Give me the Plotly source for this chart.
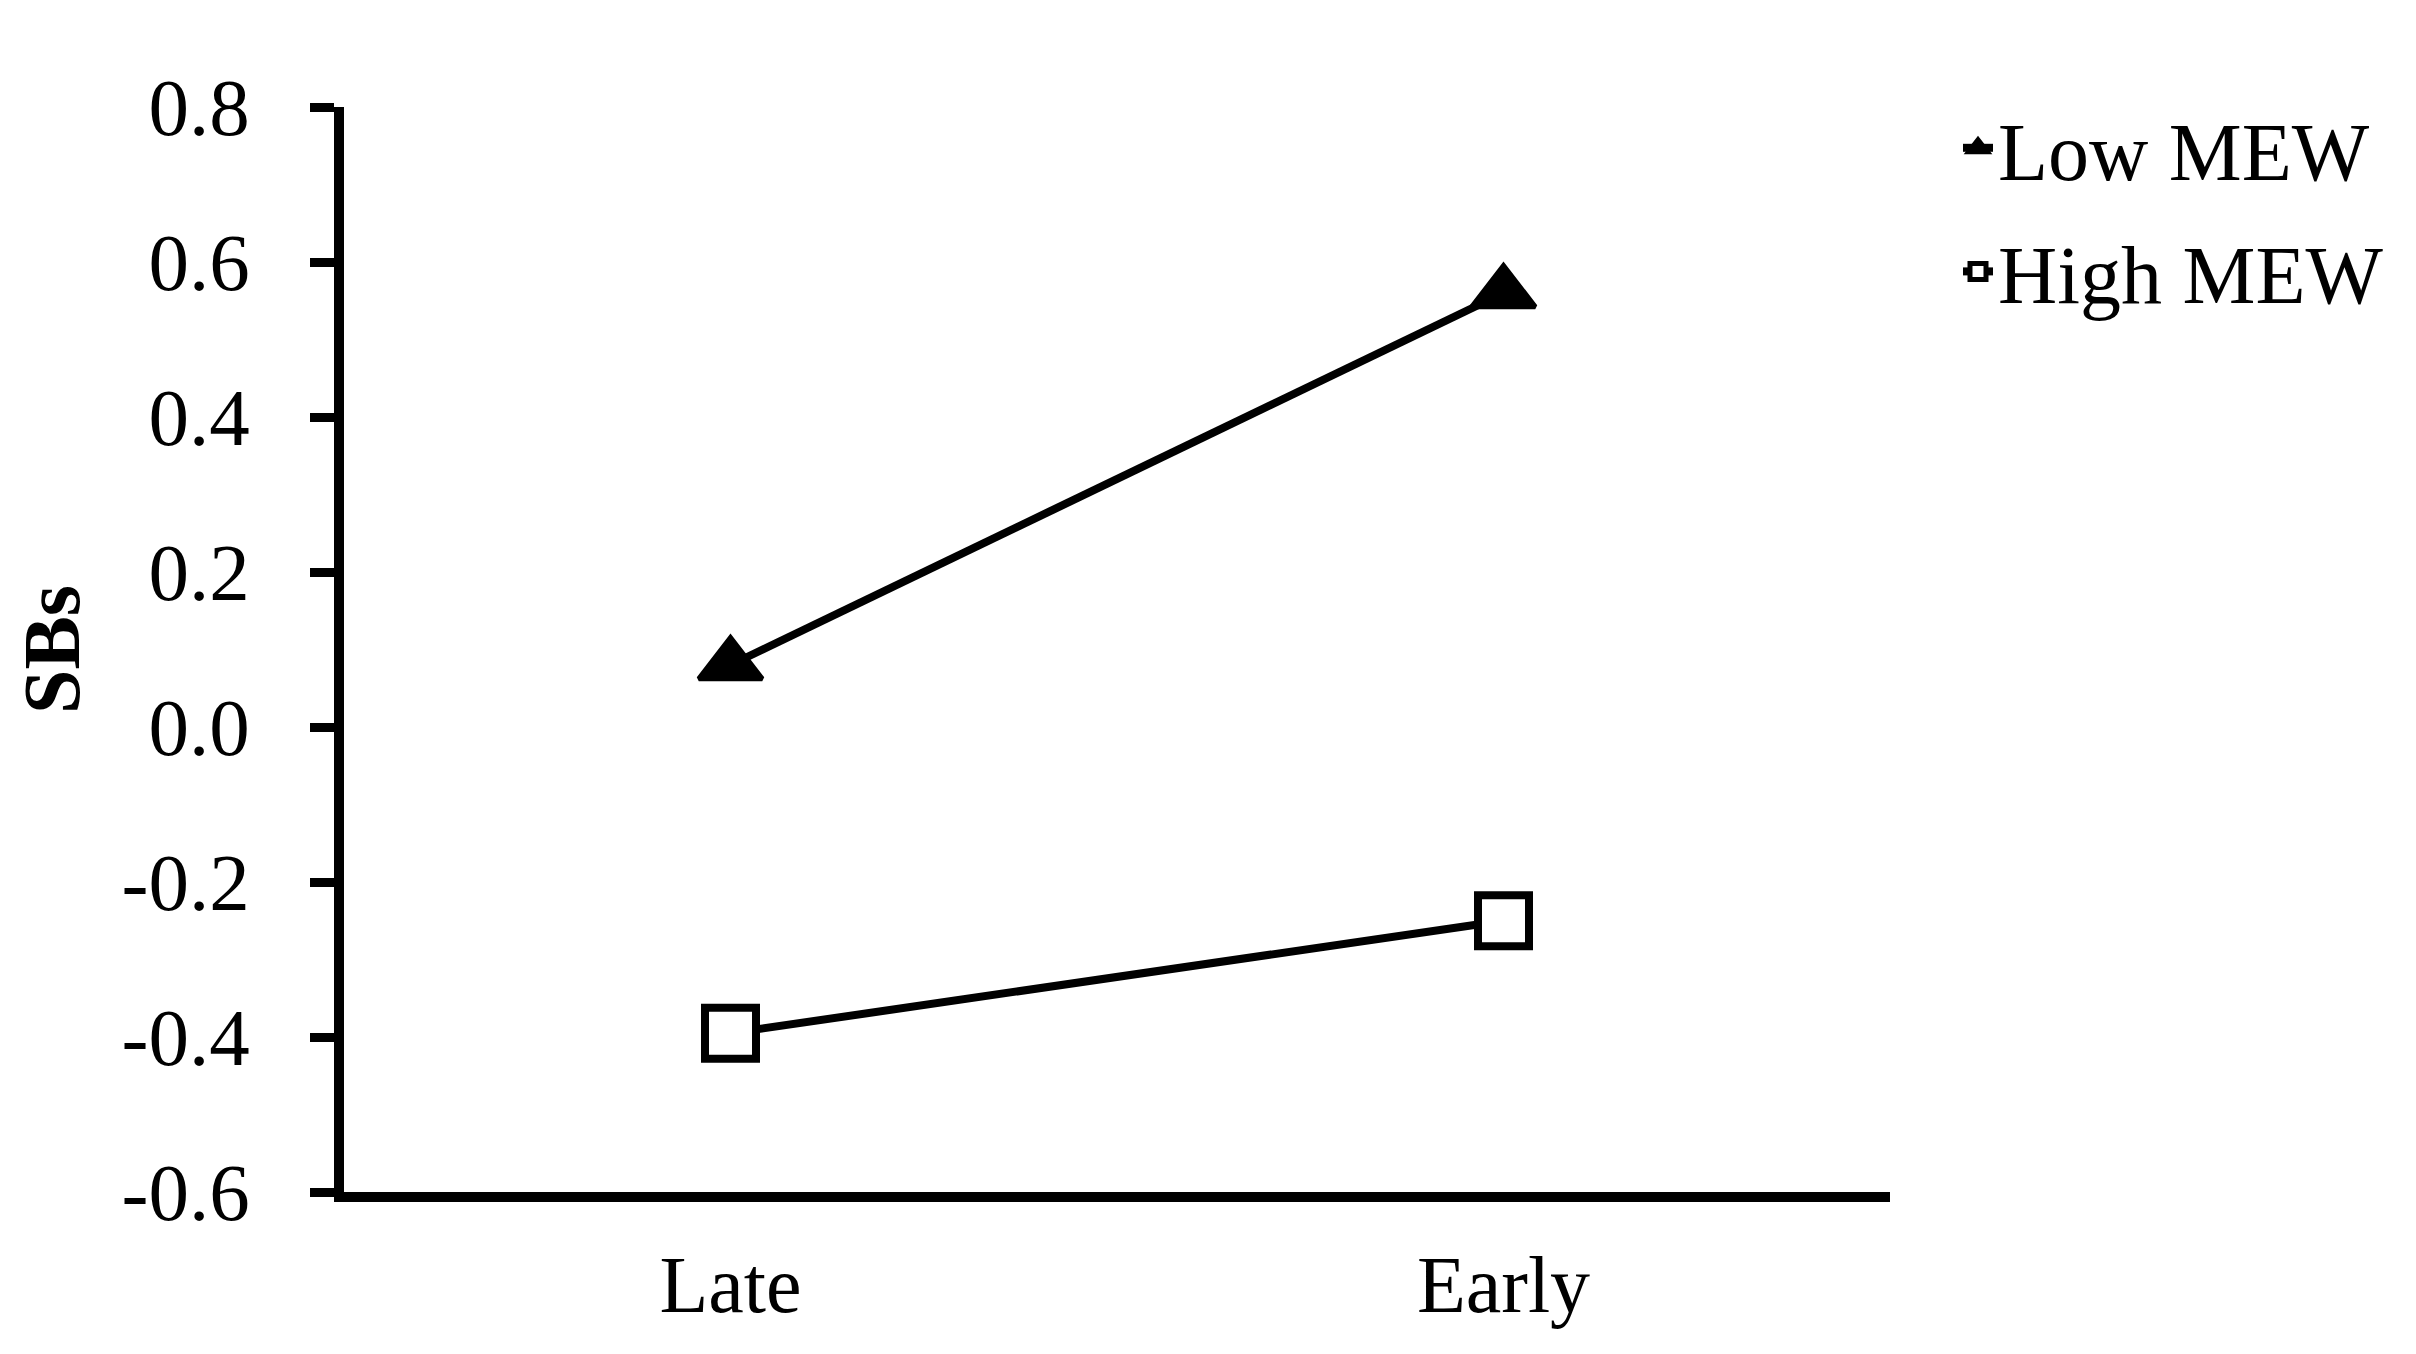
import plotly.graph_objects as go

categories = ["Late", "Early"]
low_mew = [0.08, 0.56]
high_mew = [-0.395, -0.25]
series_names = ["Low MEW", "High MEW"]
y_ticks = [-0.6, -0.4, -0.2, 0.0, 0.2, 0.4, 0.6, 0.8]
y_tick_text = ["-0.6", "-0.4", "-0.2", "0.0", "0.2", "0.4", "0.6", "0.8"]

FONT = "Liberation Serif"

fig = go.Figure()
fig.add_trace(go.Scatter(
    x=categories, y=low_mew, name=series_names[0], mode="lines+markers",
    line=dict(color="black", width=8),
    marker=dict(symbol="triangle-up", size=55, color="black",
                line=dict(color="black", width=5)),
    legendgroup="a",
))
fig.add_trace(go.Scatter(
    x=categories, y=high_mew, name=series_names[1], mode="lines+markers",
    line=dict(color="black", width=8),
    marker=dict(symbol="square", size=51, color="white",
                line=dict(color="black", width=8)),
    legendgroup="b",
))

L, R, T, B = 336, 534, 99, 170
W, H = 2416, 1354
PW, PH = W - L - R, H - T - B

fig.update_layout(
    width=W, height=H,
    margin=dict(l=L, r=R, t=T, b=B, pad=0),
    paper_bgcolor="white", plot_bgcolor="white",
    font=dict(family=FONT, size=80, color="black"),
    showlegend=True,
    legend=dict(
        x=(1950 - L) / PW, y=(H - B - 80) / PH,
        xanchor="left", yanchor="top",
        font=dict(family=FONT, size=82, color="black"),
        bgcolor="rgba(0,0,0,0)", tracegroupgap=14,
        itemsizing="trace",
    ),
)
fig.update_xaxes(
    type="category", categoryorder="array", categoryarray=categories,
    range=[-0.5, 1.5], showgrid=False, zeroline=False,
    showline=True, linecolor="black", linewidth=10,
    ticks="", tickfont=dict(family=FONT, size=80, color="black"),
    ticklabelstandoff=14,
)
fig.update_yaxes(
    range=[-0.6, 0.8], tickvals=y_ticks, ticktext=y_tick_text,
    showgrid=False, zeroline=False,
    showline=True, linecolor="black", linewidth=10,
    ticks="outside", ticklen=24, tickwidth=9, tickcolor="black",
    tickfont=dict(family=FONT, size=81, color="black"),
    ticklabelstandoff=44,
    title=dict(text="<b>SBs</b>", font=dict(family=FONT, size=80, color="black"),
               standoff=35),
)

fig.write_html("out.html")
